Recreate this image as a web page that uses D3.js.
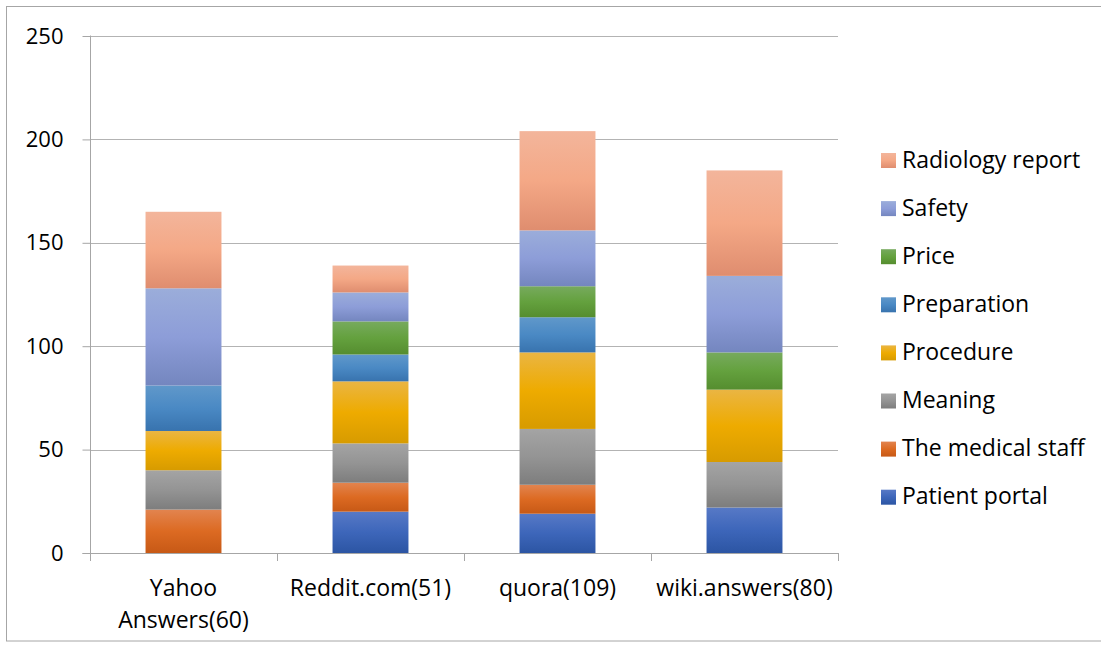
<!DOCTYPE html>
<html><head><meta charset="utf-8">
<script src="https://cdn.jsdelivr.net/npm/d3@7"></script>
<style>
html,body{margin:0;padding:0;background:#fff;}
svg{display:block;font-family:"Open Sans","Noto Sans",sans-serif;}
</style></head>
<body><svg id="chart" width="1101" height="648"></svg>
<script>
// ---- data ----
const categories = ["Yahoo Answers(60)", "Reddit.com(51)", "quora(109)", "wiki.answers(80)"];
const categoryLines = [["Yahoo", "Answers(60)"], ["Reddit.com(51)"], ["quora(109)"], ["wiki.answers(80)"]];
const seriesNames = ["Patient portal", "The medical staff", "Meaning", "Procedure", "Preparation", "Price", "Safety", "Radiology report"];
const patientPortal   = [0, 20, 19, 22];
const medicalStaff    = [21, 14, 14, 0];
const meaning         = [19, 19, 27, 22];
const procedure       = [19, 30, 37, 35];
const preparation     = [22, 13, 17, 0];
const price           = [0, 16, 15, 18];
const safety          = [47, 14, 27, 37];
const radiologyReport = [37, 13, 48, 51];
const yTicks = [0, 50, 100, 150, 200, 250];

const seriesValues = [patientPortal, medicalStaff, meaning, procedure, preparation, price, safety, radiologyReport];
// gradient stops: top, middle, bottom
const seriesColors = [
  ["#5779c6", "#3d66ba", "#2c55a3"],
  ["#e2844f", "#dc6a22", "#c75916"],
  ["#a4a4a4", "#949494", "#7d7d7d"],
  ["#eab543", "#eeab00", "#d79b00"],
  ["#6098ca", "#4a89c4", "#3873ae"],
  ["#77aa5e", "#64a13e", "#558d2f"],
  ["#9badda", "#8d9dd8", "#7486bf"],
  ["#f3b59b", "#f4a886", "#df8d6f"]
];

const svg = d3.select("#chart");
const FONT = 23, TICKFONT = 22;

// chart border
svg.append("rect").attr("x", 6.5).attr("y", 6.5).attr("width", 1100).attr("height", 634.5)
  .attr("fill", "none").attr("stroke", "#a6a6a6").attr("stroke-width", 1);

const plot = {left: 90, right: 838, top: 36, bottom: 553};

const x = d3.scaleBand().domain(categories).range([plot.left, plot.right]).paddingInner(0).paddingOuter(0);
const y = d3.scaleLinear().domain([0, 250]).range([plot.bottom, plot.top]);
const barW = x.bandwidth() * 0.406;

// gradients
const defs = svg.append("defs");
seriesColors.forEach((c, i) => {
  const g = defs.append("linearGradient").attr("id", "grad" + i)
    .attr("x1", 0).attr("y1", 0).attr("x2", 0).attr("y2", 1);
  g.append("stop").attr("offset", "0%").attr("stop-color", c[0]);
  g.append("stop").attr("offset", "50%").attr("stop-color", c[1]);
  g.append("stop").attr("offset", "100%").attr("stop-color", c[2]);
});

// gridlines
svg.append("g").selectAll("line").data(yTicks.filter(t => t > 0)).join("line")
  .attr("x1", plot.left).attr("x2", plot.right)
  .attr("y1", d => Math.round(y(d)) + 0.5).attr("y2", d => Math.round(y(d)) + 0.5)
  .attr("stroke", "#b3b3b3").attr("stroke-width", 1);

// stacked bars
const table = categories.map((c, ci) => {
  const o = {cat: c};
  seriesNames.forEach((s, si) => o[s] = seriesValues[si][ci]);
  return o;
});
const stacked = d3.stack().keys(seriesNames)(table);
svg.append("g").selectAll("g").data(stacked).join("g")
  .attr("fill", (d, i) => `url(#grad${i})`)
  .selectAll("rect").data(d => d.filter(p => p[1] - p[0] > 0)).join("rect")
  .attr("x", d => x(d.data.cat) + (x.bandwidth() - barW) / 2)
  .attr("width", barW)
  .attr("y", d => y(d[1]))
  .attr("height", d => y(d[0]) - y(d[1]));

// y axis
const yAxis = d3.axisLeft(y).tickValues(yTicks).tickSize(8).tickPadding(19);
const gy = svg.append("g").attr("transform", `translate(${plot.left + 0.5},0)`).call(yAxis);
gy.select(".domain").attr("stroke", "#a6a6a6").attr("d", `M-8,${plot.bottom}.5H0V${plot.top - 0.5}`);
gy.selectAll(".tick line").attr("stroke", "#a6a6a6");
gy.selectAll(".tick text").attr("font-family", "'Open Sans', sans-serif").attr("font-size", TICKFONT).attr("fill", "#000");

// x axis baseline and ticks
const gx = svg.append("g");
gx.append("line").attr("x1", plot.left).attr("x2", plot.right + 0.5)
  .attr("y1", plot.bottom + 0.5).attr("y2", plot.bottom + 0.5).attr("stroke", "#a6a6a6");
const boundaries = categories.map(c => x(c)).concat([x(categories[categories.length - 1]) + x.bandwidth()]);
gx.selectAll(".xt").data(boundaries).join("line").attr("class", "xt")
  .attr("x1", d => Math.round(d) + 0.5).attr("x2", d => Math.round(d) + 0.5)
  .attr("y1", plot.bottom).attr("y2", plot.bottom + 8).attr("stroke", "#a6a6a6");
gx.selectAll(".xl").data(categories).join("text").attr("class", "xl")
  .attr("text-anchor", "middle").attr("font-size", FONT).attr("fill", "#000")
  .each(function(c, i) {
    const t = d3.select(this);
    categoryLines[i].forEach((ln, li) => {
      t.append("tspan").attr("x", x(c) + x.bandwidth() / 2).attr("y", 596 + li * 31.5).text(ln);
    });
  });

// legend (top to bottom = reverse series order)
const legendOrder = seriesNames.map((s, i) => i).reverse();
const lg = svg.append("g");
legendOrder.forEach((si, k) => {
  const cy = 160 + k * 48.1;
  lg.append("rect").attr("x", 881).attr("y", cy - 7).attr("width", 15).attr("height", 15)
    .attr("fill", `url(#grad${si})`);
  lg.append("text").attr("x", 902).attr("y", cy + 7.5).attr("font-size", FONT).attr("fill", "#000")
    .text(seriesNames[si]);
});
</script>
</body></html>
